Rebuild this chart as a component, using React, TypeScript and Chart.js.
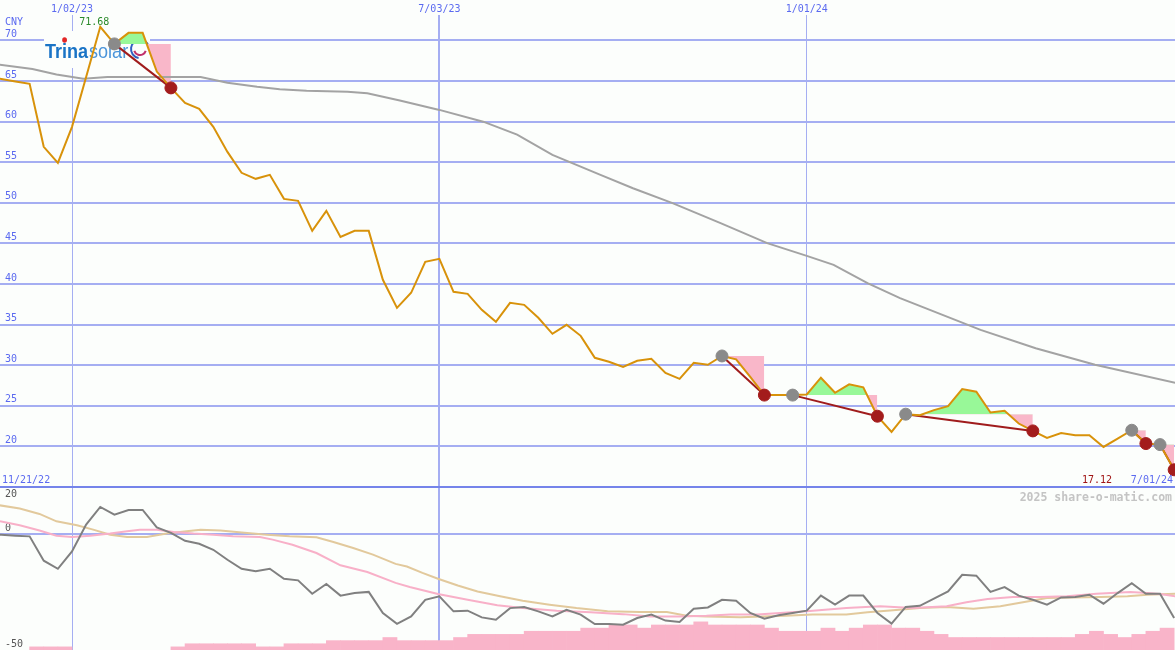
import React, { useEffect, useRef } from "react";
import { Chart, registerables } from "chart.js";

Chart.register(...registerables);

// ---------- data (week index 0 = 1/02/23, one step per week) ----------
const FIRST_WEEK = -6; // week of first entry in the weekly arrays (11/21/22)
const X_MIN = -5.096;
const X_MAX = 78.06;

const xTickWeeks = [0, 26, 52];
const xTickLabels = ["1/02/23", "7/03/23", "1/01/24"];
const startLabel = "11/21/22";
const endLabel = "7/01/24";
const currency = "CNY";
const priceTicks = [20, 25, 30, 35, 40, 45, 50, 55, 60, 65, 70];
const indicatorTicks = [20, 0, -50];

const priceClose = [
  65.5, 65.27, 64.96, 64.66, 56.9, 54.93, 59.36, 65.5, 71.68, 69.58,
  70.94, 70.94, 66.17, 64.16, 62.3, 61.58, 59.36, 56.28, 53.7, 52.96,
  53.45, 50.49, 50.25, 46.55, 49.01, 45.81, 46.55, 46.55, 40.52, 37.07,
  38.92, 42.73, 43.1, 39.04, 38.79, 36.82, 35.35, 37.68, 37.44, 35.84,
  33.87, 34.98, 33.62, 30.91, 30.42, 29.8, 30.54, 30.79, 29.06, 28.32,
  30.3, 30.05, 31.14, 30.73, 28.57, 26.32, 26.32, 26.32, 26.4, 28.46,
  26.61, 27.64, 27.27, 23.72, 21.78, 23.97, 23.84, 24.47, 24.96, 27.06,
  26.73, 24.18, 24.38, 22.82, 21.91, 21.05, 21.66, 21.37, 21.37, 19.93,
  20.96, 21.99, 20.35, 20.22, 17.12,
];

const maWeeks = [
  -6, -2.8, -1.1, 0.8, 2.5, 7.4, 9.1, 11.0, 13.1, 14.7, 16.6, 19.5, 20.9, 23.2,
  26.0, 29.1, 31.5, 34.0, 37.4, 39.7, 42.5, 45.9, 49.2, 52.0, 53.9, 56.3, 58.6,
  64.3, 68.2, 72.4, 78.1,
];
const maValues = [
  67.2, 66.5, 65.8, 65.3, 65.5, 65.5, 65.5, 64.8, 64.3, 64.0, 63.8, 63.7, 63.5,
  62.6, 61.45, 60.0, 58.4, 55.9, 53.45, 51.8, 49.96, 47.5, 45.04, 43.47, 42.37,
  40.1, 38.26, 34.36, 32.1, 30.05, 27.83,
];

const signalStartWeeks = [3, 46, 51, 59, 75, 77];
const signalEndWeeks = [7, 49, 57, 68, 76, 78];

const momentum = [
  0.2, -0.2, -0.6, -0.9, -11.4, -14.9, -7.4, 4.2, 11.8, 8.5,
  10.5, 10.5, 3.0, 0.6, -2.8, -4.1, -6.7, -11.0, -14.9, -16.0,
  -14.9, -19.2, -19.9, -25.7, -21.5, -26.5, -25.4, -24.9, -34.0, -38.7,
  -35.5, -28.3, -26.8, -33.3, -33.0, -35.9, -36.9, -31.9, -31.4, -33.3,
  -35.5, -32.6, -34.7, -38.8, -38.8, -39.1, -36.2, -34.7, -37.3, -37.9,
  -32.2, -31.6, -28.3, -28.7, -34.0, -36.5, -35.0, -34.0, -33.0, -26.5,
  -30.4, -26.5, -26.5, -34.0, -38.6, -31.4, -30.9, -27.8, -24.7, -17.5,
  -17.9, -24.9, -22.8, -26.5, -28.3, -30.4, -27.3, -27.1, -26.1, -30.0,
  -25.4, -21.1, -25.7, -25.7, -36.2,
];

const pinkWeeks = [
  -5.1, -3.7, -2.3, -1.1, 0, 1.3, 2.7, 3.9, 4.8, 6.0, 7.2, 8.6, 10.0, 11.4,
  13.3, 14.2, 15.6, 17.3, 19.0, 20.9, 22.9, 23.9, 25.9, 28.0, 30.1, 31.9, 34.3,
  36.7, 39.0, 40.9, 43.0, 44.9, 46.6, 48.5, 52.0, 54.8, 57.2, 59.5, 61.9, 63.3,
  64.8, 66.6, 68.5, 70.4, 72.5, 74.9, 76.1, 77.0, 78.1,
];
const pinkValues = [
  5.6, 3.9, 1.6, -0.6, -1.2, -0.6, 0.3, 1.3, 2.0, 2.0, 1.0, 0.3, -0.2, -0.9,
  -1.2, -2.3, -4.5, -8.1, -13.4, -16.3, -21.0, -22.8, -25.8, -28.3, -30.7,
  -31.9, -33.0, -33.7, -34.5, -35.5, -35.5, -35.2, -34.7, -34.7, -33.3, -31.9,
  -31.1, -31.9, -31.1, -29.4, -28.0, -27.1, -27.1, -26.8, -25.7, -24.9, -25.4,
  -25.8, -26.8,
];

const tanWeeks = [
  -5.1, -3.7, -2.3, -1.1, 0.35, 1.5, 2.7, 3.9, 5.3, 6.7, 8.1, 9.1, 10.5, 12.4,
  13.8, 15.4, 17.3, 18.5, 19.9, 21.3, 22.9, 23.7, 24.8, 25.9, 27.3, 28.7, 30.3,
  31.9, 33.8, 35.7, 37.9, 40.2, 42.1, 43.5, 44.9, 47.3, 50.5, 52.4, 54.8, 56.3,
  57.9, 60.0, 61.9, 63.8, 65.7, 67.6, 69.0, 70.8, 72.8, 74.7, 76.1, 78.1,
];
const tanValues = [
  12.5, 11.1, 8.8, 5.6, 3.9, 2.0, -0.2, -1.2, -1.2, 0.3, 1.3, 2.0, 1.6, 0.6,
  -0.2, -0.9, -1.3, -3.3, -5.9, -8.8, -12.8, -13.9, -16.7, -19.2, -22.1, -24.7,
  -26.8, -28.7, -30.4, -31.9, -33.3, -33.6, -33.6, -35.2, -35.5, -35.8, -35.2,
  -34.7, -34.7, -33.7, -32.9, -31.9, -31.4, -32.2, -31.1, -29.0, -27.5, -27.3,
  -27.1, -26.8, -26.1, -25.7,
];

const volume = [
  null, null, null, 1, 1, 1, null, null, null, null,
  null, null, null, 1, 2, 2, 2, 2, 2, 1,
  1, 2, 2, 2, 3, 3, 3, 3, 4, 3,
  3, 3, 3, 4, 5, 5, 5, 5, 6, 6,
  6, 6, 7, 7, 8, 8, 7, 8, 8, 8,
  9, 8, 8, 8, 8, 7, 6, 6, 6, 7,
  6, 7, 8, 8, 7, 7, 6, 5, 4, 4,
  4, 4, 4, 4, 4, 4, 4, 5, 6, 5,
  4, 5, 6, 7, null,
];

// ---------- styles ----------
const BG = "#fcfefc";
const GRID = "#a5aef2";
const BORDER_BLUE = "#7584ea";
const LABEL_BLUE = "#5b6af0";
const PRICE = "#d8920a";
const MA_GRAY = "#a3a3a3";
const TREND = "#a01c1c";
const GREEN = "#98f898";
const PINK = "#f9b7c9";
const GRAYDOT = "#8a8a8a";
const REDDOT = "#a31c1c";
const MONO = { family: '"DejaVu Sans Mono", monospace', size: 10, lineHeight: 1.2 };

const priceAt = (w: number) => priceClose[w - FIRST_WEEK];

function zeroPad(s: any) {
  s.paddingTop = 0;
  s.paddingBottom = 0;
  s.paddingLeft = 0;
  s.paddingRight = 0;
}

function xScaleBase(showLabels: boolean, height: number): any {
  return {
    type: "linear",
    position: "top",
    min: X_MIN,
    max: X_MAX,
    offset: false,
    afterBuildTicks: (s: any) => {
      s.ticks = xTickWeeks.map((v) => ({ value: v }));
    },
    afterFit: (s: any) => {
      s.height = height;
      zeroPad(s);
    },
    ticks: {
      display: showLabels,
      padding: 0,
      autoSkip: false,
      maxRotation: 0,
      minRotation: 0,
      color: LABEL_BLUE,
      font: MONO,
      callback: (_v: any, i: number) => xTickLabels[i],
    },
    grid: {
      offset: false,
      drawTicks: false,
      color: GRID,
      lineWidth: (ctx: any) => (ctx.tick && ctx.tick.value === 26 ? 2 : 1),
    },
    border: { display: false },
  };
}

const topDecor = {
  id: "topDecor",
  beforeDatasetsDraw(chart: any) {
    const ctx = chart.ctx;
    ctx.save();
    ctx.fillStyle = BG;
    ctx.fillRect(44, 31, 106, 37);
    ctx.translate(45, 58);
    ctx.scale(0.86, 1);
    ctx.textBaseline = "alphabetic";
    ctx.textAlign = "left";
    ctx.font = 'bold 21px "Liberation Sans", Arial, sans-serif';
    ctx.fillStyle = "#1a74c6";
    ctx.fillText("Trina", 0, 0);
    const trW = ctx.measureText("Tr").width;
    const iW = ctx.measureText("i").width;
    const w = ctx.measureText("Trina").width;
    ctx.fillStyle = "#e32626";
    ctx.beginPath();
    ctx.arc(trW + iW / 2, -18, 2.8, 0, Math.PI * 2);
    ctx.fill();
    ctx.font = '21px "Liberation Sans", Arial, sans-serif';
    ctx.fillStyle = "#4b95da";
    ctx.fillText("solar", w + 1, 0);
    ctx.restore();
    ctx.save();
    ctx.lineWidth = 2;
    ctx.strokeStyle = "#2f5fc0";
    ctx.beginPath();
    ctx.arc(140, 49, 9, Math.PI * 0.55, Math.PI * 1.9);
    ctx.stroke();
    ctx.strokeStyle = "#c0306a";
    ctx.beginPath();
    ctx.arc(140, 49, 6, Math.PI * 0.1, Math.PI * 0.9);
    ctx.stroke();
    ctx.restore();
  },
  afterDraw(chart: any) {
    const ctx = chart.ctx;
    const xs = chart.scales.x;
    const ys = chart.scales.y;
    ctx.save();
    ctx.font = '10px "DejaVu Sans Mono", monospace';
    ctx.textBaseline = "alphabetic";
    const maxV = Math.max(...priceClose);
    const k = priceClose.indexOf(maxV);
    const px = xs.getPixelForValue(FIRST_WEEK + k);
    const py = ys.getPixelForValue(maxV);
    ctx.fillStyle = "#2a8a2a";
    ctx.textAlign = "left";
    ctx.fillText(maxV.toFixed(2), px - 21, py - 2);
    const base = chart.chartArea.bottom - 4;
    ctx.fillStyle = LABEL_BLUE;
    ctx.fillText(startLabel, 2, base);
    ctx.textAlign = "right";
    ctx.fillText(endLabel, chart.chartArea.right - 2, base);
    ctx.fillStyle = "#a01414";
    const last = priceClose[priceClose.length - 1];
    ctx.fillText(last.toFixed(2), chart.chartArea.right - 63, base);
    ctx.restore();
  },
};

const bottomDecor = {
  id: "bottomDecor",
  afterDraw(chart: any) {
    const ctx = chart.ctx;
    ctx.save();
    ctx.font = 'bold 11.5px "DejaVu Sans Mono", monospace';
    ctx.fillStyle = "#c4c4c4";
    ctx.textAlign = "right";
    ctx.textBaseline = "alphabetic";
    ctx.fillText("2025 share-o-matic.com", chart.chartArea.right - 3, 13);
    ctx.restore();
  },
};

function topConfig(): any {
  const datasets: any[] = [];
  datasets.push({
    label: "close",
    data: priceClose.map((v, k) => ({ x: FIRST_WEEK + k, y: v })),
    borderColor: PRICE,
    borderWidth: 2,
    pointRadius: 0,
    order: 2,
  });
  datasets.push({
    label: "ma",
    data: maWeeks.map((w, k) => ({ x: w, y: maValues[k] })),
    borderColor: MA_GRAY,
    borderWidth: 2,
    pointRadius: 0,
    order: 4,
  });
  signalStartWeeks.forEach((g, k) => {
    const r = signalEndWeeks[k];
    const level = priceAt(g);
    const seg: any[] = [];
    for (let w = g; w <= r; w++) seg.push({ x: w, y: priceAt(w) });
    const levelIdx = datasets.length;
    datasets.push({
      label: "level" + k,
      data: seg.map((p) => ({ x: p.x, y: level })),
      borderColor: "transparent",
      borderWidth: 0,
      pointRadius: 0,
      fill: false,
      order: 6,
    });
    datasets.push({
      label: "zone" + k,
      data: seg,
      borderColor: "transparent",
      borderWidth: 0,
      pointRadius: 0,
      fill: { target: levelIdx, above: GREEN, below: PINK },
      order: 5,
    });
    datasets.push({
      label: "trend" + k,
      data: [
        { x: g, y: level },
        { x: r, y: priceAt(r) },
      ],
      borderColor: TREND,
      borderWidth: 2,
      pointRadius: 0,
      order: 3,
    });
  });
  datasets.push({
    label: "start",
    data: signalStartWeeks.map((w) => ({ x: w, y: priceAt(w) })),
    showLine: false,
    pointRadius: 6,
    pointBackgroundColor: GRAYDOT,
    pointBorderColor: GRAYDOT,
    pointBorderWidth: 1,
    order: 1,
  });
  datasets.push({
    label: "end",
    data: signalEndWeeks.map((w) => ({ x: w, y: priceAt(w) })),
    showLine: false,
    pointRadius: 6,
    pointBackgroundColor: REDDOT,
    pointBorderColor: REDDOT,
    pointBorderWidth: 1,
    order: 0,
  });

  return {
    type: "line",
    data: { datasets },
    plugins: [topDecor],
    options: {
      animation: false,
      responsive: false,
      devicePixelRatio: 1,
      events: [],
      layout: { padding: 0, autoPadding: false },
      plugins: { legend: { display: false }, tooltip: { enabled: false } },
      elements: { line: { tension: 0 }, point: { radius: 0 } },
      scales: {
        x: xScaleBase(true, 15),
        xb: {
          type: "linear",
          axis: "x",
          position: "bottom",
          min: X_MIN,
          max: X_MAX,
          ticks: { display: false },
          grid: { display: false, drawTicks: false },
          border: { display: true, color: BORDER_BLUE, width: 2 },
          afterFit: (s: any) => {
            s.height = 1;
            zeroPad(s);
          },
        },
        y: {
          type: "linear",
          position: "left",
          min: 15,
          max: 73.14,
          afterBuildTicks: (s: any) => {
            s.ticks = priceTicks.map((v) => ({ value: v }));
          },
          afterFit: (s: any) => {
            s.width = 0;
            zeroPad(s);
          },
          ticks: {
            mirror: true,
            padding: 5,
            autoSkip: false,
            color: LABEL_BLUE,
            font: MONO,
            callback: (v: any) =>
              v === priceTicks[priceTicks.length - 1]
                ? [currency, String(v), "", ""]
                : [String(v), ""],
          },
          grid: { drawTicks: false, color: GRID, lineWidth: 2 },
          border: { display: false },
        },
      },
    },
  };
}

function bottomConfig(): any {
  return {
    type: "line",
    data: {
      datasets: [
        {
          label: "momentum",
          data: momentum.map((v, k) => ({ x: FIRST_WEEK + k, y: v })),
          borderColor: "#808080",
          borderWidth: 2,
          pointRadius: 0,
          order: 0,
        },
        {
          label: "pink",
          data: pinkWeeks.map((w, k) => ({ x: w, y: pinkValues[k] })),
          borderColor: "#f8b0c8",
          borderWidth: 2,
          pointRadius: 0,
          order: 1,
        },
        {
          label: "tan",
          data: tanWeeks.map((w, k) => ({ x: w, y: tanValues[k] })),
          borderColor: "#e2c99c",
          borderWidth: 2,
          pointRadius: 0,
          order: 2,
        },
        {
          type: "bar",
          label: "volume",
          yAxisID: "yv",
          data: volume.map((v, k) => ({ x: FIRST_WEEK + k + 0.5, y: v })),
          backgroundColor: "#f9b4c9",
          borderWidth: 0,
          barPercentage: 1,
          categoryPercentage: 1,
          order: 3,
        },
      ],
    },
    plugins: [bottomDecor],
    options: {
      animation: false,
      responsive: false,
      devicePixelRatio: 1,
      events: [],
      layout: { padding: 0, autoPadding: false },
      plugins: { legend: { display: false }, tooltip: { enabled: false } },
      elements: { line: { tension: 0 }, point: { radius: 0 } },
      scales: {
        x: xScaleBase(false, 0),
        y: {
          type: "linear",
          position: "left",
          min: -50,
          max: 20,
          afterBuildTicks: (s: any) => {
            s.ticks = indicatorTicks.map((v) => ({ value: v }));
          },
          afterFit: (s: any) => {
            s.width = 0;
            zeroPad(s);
          },
          ticks: {
            mirror: true,
            padding: 5,
            autoSkip: false,
            color: "#555555",
            font: MONO,
            callback: (v: any) =>
              v === indicatorTicks[0] ? ["", String(v)] : [String(v), ""],
          },
          grid: {
            drawTicks: false,
            lineWidth: 2,
            color: (ctx: any) => (ctx.tick && ctx.tick.value === 0 ? GRID : "transparent"),
          },
          border: { display: false },
        },
        yv: {
          type: "linear",
          position: "right",
          display: false,
          min: 0,
          max: 51.84,
        },
      },
    },
  };
}

export default function App() {
  const topRef = useRef<HTMLCanvasElement>(null);
  const botRef = useRef<HTMLCanvasElement>(null);
  useEffect(() => {
    const top = new Chart(topRef.current as HTMLCanvasElement, topConfig());
    const bot = new Chart(botRef.current as HTMLCanvasElement, bottomConfig());
    return () => {
      top.destroy();
      bot.destroy();
    };
  }, []);
  return (
    <div
      style={{
        position: "fixed",
        left: 0,
        top: 0,
        width: 1175,
        height: 650,
        background: BG,
        overflow: "hidden",
      }}
    >
      <canvas
        ref={topRef}
        width={1175}
        height={488}
        style={{ position: "absolute", left: 0, top: 0, width: 1175, height: 488 }}
      />
      <canvas
        ref={botRef}
        width={1175}
        height={162}
        style={{ position: "absolute", left: 0, top: 488, width: 1175, height: 162 }}
      />
    </div>
  );
}
